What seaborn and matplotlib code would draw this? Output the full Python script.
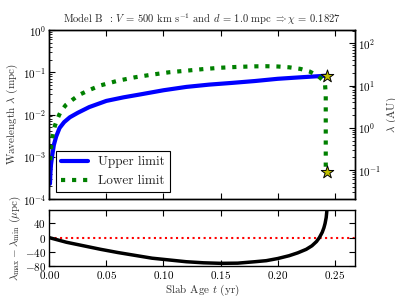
import numpy as np
import matplotlib
matplotlib.use("Agg")
import matplotlib.pyplot as plt
import seaborn as sns

MPC_TO_AU = 206.265

# upper limit (solid blue), lambda in mpc
t_upper = [0.0006, 0.001, 0.0015, 0.0025, 0.004, 0.006, 0.009, 0.013, 0.018,
           0.025, 0.035, 0.05, 0.065, 0.08, 0.1, 0.12, 0.14, 0.16, 0.18, 0.2,
           0.22, 0.243]
lam_upper = [2.3e-4, 4.2e-4, 6.5e-4, 1.05e-3, 1.9e-3, 3.0e-3, 4.8e-3, 6.6e-3,
             8.6e-3, 1.1e-2, 1.5e-2, 2.1e-2, 2.55e-2, 3.0e-2, 3.75e-2, 4.5e-2,
             5.1e-2, 5.6e-2, 6.2e-2, 7.0e-2, 7.6e-2, 8.3e-2]

# lower limit (dotted green)
t_lower = [0.0008, 0.0012, 0.0018, 0.0025, 0.0035, 0.005, 0.0065, 0.0085,
           0.01, 0.0144, 0.02, 0.026, 0.035, 0.045, 0.06, 0.075, 0.09, 0.105,
           0.12, 0.135, 0.15, 0.165, 0.18, 0.19, 0.2, 0.21, 0.22, 0.228,
           0.2354, 0.2395, 0.2415, 0.2421, 0.2421, 0.2421]
lam_lower = [8.3e-4, 1.3e-3, 2.1e-3, 2.8e-3, 3.8e-3, 5.5e-3, 7.2e-3, 9.6e-3,
             0.0117, 0.0167, 0.022, 0.029, 0.038, 0.049, 0.063, 0.076, 0.088,
             0.100, 0.109, 0.119, 0.128, 0.134, 0.138, 0.139, 0.137, 0.131,
             0.12, 0.104, 0.0815, 0.065, 0.05, 0.03, 4e-3, 4.43e-4]

# end points (stars)
t_star = [0.243, 0.243]
lam_star = [0.083, 4.43e-4]

# lambda_max - lambda_min (micro pc)
t_diff = [0.0, 0.015, 0.03, 0.045, 0.06, 0.075, 0.09, 0.105, 0.12, 0.135,
          0.15, 0.165, 0.18, 0.19, 0.2, 0.21, 0.2175, 0.225, 0.23, 0.234,
          0.2365, 0.239, 0.2405, 0.2415, 0.2425, 0.2432, 0.2434]
diff = [0, -13, -23, -33, -42, -50, -58, -63, -68, -71, -72.5, -72, -68,
        -65, -59, -51, -43, -33, -23, -11, 0, 15, 28, 40, 57, 80, 120]

sns.set_style("ticks")
plt.rcParams.update({
    "font.family": "serif",
    "font.serif": ["cmr10", "DejaVu Serif"],
    "mathtext.fontset": "cm",
    "axes.formatter.use_mathtext": True,
    "axes.unicode_minus": True,
    "font.size": 8,
    "xtick.labelsize": 8,
    "ytick.labelsize": 8,
    "axes.labelsize": 8,
    "xtick.direction": "in",
    "ytick.direction": "in",
    "xtick.top": True,
    "ytick.right": True,
    "xtick.major.size": 4,
    "ytick.major.size": 4,
    "xtick.minor.size": 2,
    "ytick.minor.size": 2,
    "xtick.major.pad": 2.5,
    "ytick.major.pad": 2.5,
    "axes.edgecolor": "black",
    "axes.linewidth": 1.0,
    "xtick.color": "black",
    "ytick.color": "black",
    "axes.labelcolor": "#333333",
})

fig = plt.figure(figsize=(3.95, 2.96), dpi=100)
ax_top = fig.add_axes([0.1248, 0.3277, 0.7739, 0.5709])
ax_bot = fig.add_axes([0.1248, 0.1014, 0.7739, 0.1891], sharex=ax_top)

sns.lineplot(x=t_upper, y=lam_upper, ax=ax_top, color="b", lw=3,
             estimator=None, sort=False, label="Upper limit")
sns.lineplot(x=t_lower, y=lam_lower, ax=ax_top, color="g", lw=3,
             linestyle=":", estimator=None, sort=False, label="Lower limit")
sns.scatterplot(x=t_star, y=lam_star, ax=ax_top, marker="*", s=90,
                color="y", edgecolor="k", linewidth=0.7, zorder=5)
ax_top.set_yscale("log")
ax_top.set_ylim(1e-4, 1)
ax_top.set_xlim(0, 0.2677)
ax_top.set_ylabel(r"Wavelength $\lambda$ (mpc)", labelpad=2)
ax_top.tick_params(which="both", right=False, labelbottom=False)
ax_top.set_title(r"Model B  : $V$ = 500 km s$^{-1}$ and $d$ = 1.0 mpc "
                 r"$\Rightarrow \chi$ = 0.1827", fontsize=7.6, pad=5)
leg = ax_top.legend(loc="lower left", fontsize=9.5, fancybox=False,
                    edgecolor="black", framealpha=1, handlelength=2)
leg.get_frame().set_linewidth(0.8)

ax_r = ax_top.twinx()
ax_r.set_yscale("log")
ax_r.set_ylim(1e-4 * MPC_TO_AU, 1 * MPC_TO_AU)
ax_r.set_ylabel(r"$\lambda$ (AU)", labelpad=2)
ax_r.tick_params(which="both", direction="in")

sns.lineplot(x=t_diff, y=diff, ax=ax_bot, color="k", lw=2.5,
             estimator=None, sort=False)
ax_bot.axhline(0, color="r", ls=":", lw=1.5, zorder=0)
ax_bot.set_ylim(-80, 78)
ax_bot.set_yticks([-80, -40, 0, 40])
ax_bot.set_xticks([0, 0.05, 0.1, 0.15, 0.2, 0.25])
ax_bot.set_xlim(0, 0.2677)
ax_bot.set_xlabel(r"Slab Age $t$ (yr)", labelpad=1)
ax_bot.set_ylabel(r"$\lambda_{\rm max} - \lambda_{\rm min}$ ($\mu$pc)",
                  labelpad=1)

fig.savefig("out.png", dpi=100)
